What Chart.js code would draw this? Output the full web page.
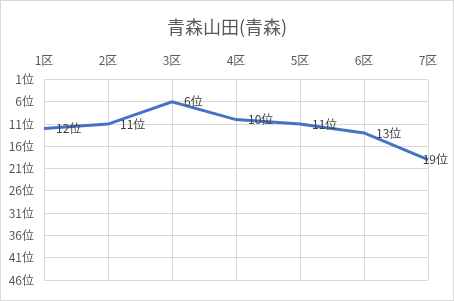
<!DOCTYPE html>
<html>
<head>
<meta charset="utf-8">
<script src="https://cdn.jsdelivr.net/npm/chart.js@4"></script>
<style>
  body { margin: 0; background: #fff; }
</style>
</head>
<body>
<canvas id="chart" width="454" height="301"></canvas>
<script>
// sections and rank in each section
var sections = ["1区", "2区", "3区", "4区", "5区", "6区", "7区"];
var ranks = [12, 11, 6, 10, 11, 13, 19];
var chartTitle = "青森山田(青森)";

var jpFont = "'Noto Sans CJK JP', 'Noto Sans', sans-serif";

// draws "N位" to the right of each point, the title and the outer border
var rankLabels = {
  id: 'rankLabels',
  afterDatasetsDraw: function (chart) {
    var ctx = chart.ctx;
    var meta = chart.getDatasetMeta(0);
    ctx.save();
    ctx.font = "12px " + jpFont;
    ctx.fillStyle = "#404040";
    ctx.textAlign = "left";
    ctx.textBaseline = "middle";
    meta.data.forEach(function (pt, i) {
      var txt = ranks[i] + "位";
      var w = ctx.measureText(txt).width;
      var x = Math.min(pt.x + 12, chart.width - 6 - w);
      ctx.fillText(txt, x, pt.y);
    });
    ctx.restore();
  },
  afterDraw: function (chart) {
    var ctx = chart.ctx;
    ctx.save();
    // title centred on the whole chart, like the spreadsheet does
    ctx.font = "18px " + jpFont;
    ctx.fillStyle = "#595959";
    ctx.textAlign = "center";
    ctx.textBaseline = "middle";
    ctx.fillText(chartTitle, chart.width / 2, 27);
    ctx.strokeStyle = "#d9d9d9";
    ctx.lineWidth = 1;
    ctx.strokeRect(0.5, 0.5, chart.width - 1, chart.height - 1);
    ctx.restore();
  }
};

var ctx_line = document.getElementById("chart").getContext("2d");
var rankChart = new Chart(ctx_line, {
  type: 'line',
  data: {
    labels: sections,
    datasets: [{
      data: ranks,
      borderColor: "#4472C4",
      borderWidth: 3,
      pointRadius: 0,
      tension: 0,
      fill: false
    }]
  },
  options: {
    responsive: false,
    animation: false,
    layout: { padding: { left: 0, right: 26, top: 38, bottom: 21 } },
    plugins: {
      legend: { display: false },
      tooltip: { enabled: false },
      title: { display: false }
    },
    scales: {
      x: {
        position: 'top',
        offset: false,
        grid: { color: "#d9d9d9", drawTicks: false },
        border: { display: false },
        ticks: { color: "#595959", font: { family: jpFont, size: 12 }, padding: 12, maxRotation: 0 },
        afterFit: function (scale) { scale.height = 41.5; }
      },
      y: {
        reverse: true,
        min: 1,
        max: 46,
        grid: { color: "#d9d9d9", drawTicks: false },
        border: { display: false },
        ticks: {
          stepSize: 5,
          color: "#595959",
          font: { family: jpFont, size: 12 },
          padding: 10,
          callback: function (v) { return v + "位"; }
        },
        afterFit: function (scale) { scale.width = 44; }
      }
    }
  },
  plugins: [rankLabels]
});
</script>
</body>
</html>
